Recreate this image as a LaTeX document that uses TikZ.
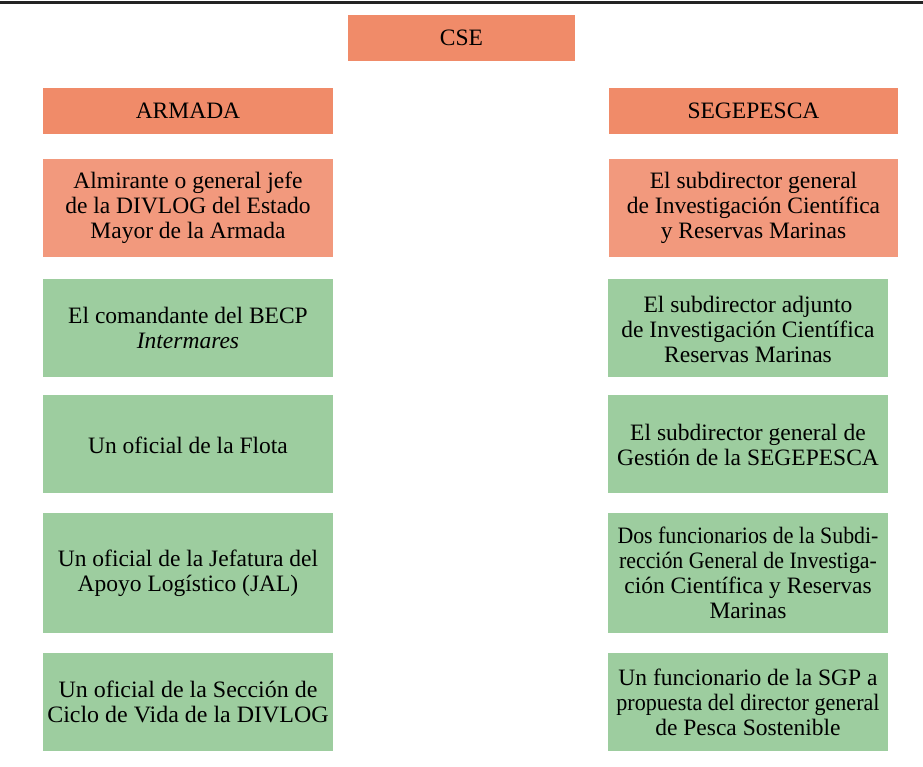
\documentclass[tikz,border=0pt]{standalone}
\usepackage{fontspec}
\setmainfont{Liberation Serif}
\definecolor{headc}{RGB}{240,139,105}
\definecolor{firstc}{RGB}{242,153,125}
\definecolor{greenc}{RGB}{157,205,159}
\definecolor{rulec}{RGB}{35,35,35}
\tikzset{
  x=1pt,y=-1pt,
  boxbase/.style={inner sep=0pt, align=center, font=\fontsize{23.5}{25}\selectfont, text=black},
}
\begin{document}
\begin{tikzpicture}
\useasboundingbox (0,0) rectangle (923,766);
\fill[rulec] (0,1.3) rectangle (923,4.3);
% headers
\path[fill=headc] (348,15) rectangle (575,61);
\node[boxbase] (cse) at (461.5,38) {CSE};
\path[fill=headc] (43,88) rectangle (333,134);
\node[boxbase] (armada) at (188,111) {ARMADA};
\path[fill=headc] (609,88) rectangle (898,134);
\node[boxbase] (segep) at (753.5,111) {SEGEPESCA};
% row 1
\path[fill=firstc] (43,159) rectangle (333,257);
\node[boxbase] (a1) at (188,208) {Almirante o general jefe\\de la DIVLOG del Estado\\Mayor de la Armada};
\path[fill=firstc] (609,159) rectangle (898,257);
\node[boxbase] (s1) at (753.5,208) {El subdirector general\\de Investigación Científica\\y Reservas Marinas};
% row 2
\path[fill=greenc] (43,279) rectangle (333,377);
\node[boxbase] (a2) at (188,328) {El comandante del BECP\\\textit{Intermares}};
\path[fill=greenc] (608,279) rectangle (888,377);
\node[boxbase] (s2) at (748,329) {El subdirector adjunto\\de Investigación Científica\\Reservas Marinas};
% row 3
\path[fill=greenc] (43,395) rectangle (333,493);
\node[boxbase] (a3) at (188,445) {Un oficial de la Flota};
\path[fill=greenc] (608,395) rectangle (888,493);
\node[boxbase] (s3) at (748,445) {El subdirector general de\\Gestión de la SEGEPESCA};
% row 4
\path[fill=greenc] (43,513) rectangle (333,633);
\node[boxbase] (a4) at (188,573) {Un oficial de la Jefatura del\\Apoyo Logístico (JAL)};
\path[fill=greenc] (608,513) rectangle (888,633);
\node[boxbase] (s4) at (748,573) {\scalebox{0.93}[1]{Dos funcionarios de la Subdi-}\\\scalebox{0.93}[1]{rección General de Investiga-}\\ción Científica y Reservas\\Marinas};
% row 5
\path[fill=greenc] (43,653) rectangle (333,751);
\node[boxbase] (a5) at (188,702) {\scalebox{1.02}[1]{Un oficial de la Sección de}\\\scalebox{1.02}[1]{Ciclo de Vida de la DIVLOG}};
\path[fill=greenc] (608,653) rectangle (888,751);
\node[boxbase] (s5) at (748,702) {Un funcionario de la SGP a\\\scalebox{0.94}[1]{propuesta del director general}\\de Pesca Sostenible};
\end{tikzpicture}
\end{document}
